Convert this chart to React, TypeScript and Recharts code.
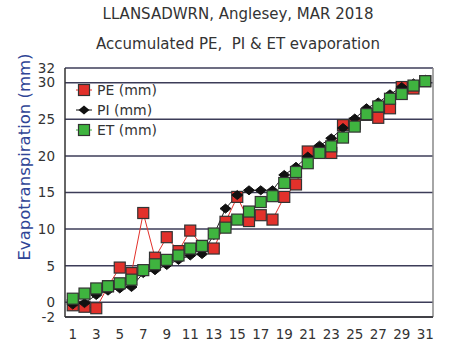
import { LineChart, Line, XAxis, YAxis, CartesianGrid, ReferenceLine } from 'recharts'

const days = Array.from({ length: 31 }, (_, i) => i + 1)
const pe = [-0.4, -0.6, -0.8, 2.2, 4.75, 4.0, 12.2, 6.1, 8.9, 7.0, 9.8, 7.7, 7.35, 11.0, 14.4, 11.1, 11.9, 11.3, 14.4, 16.1, 20.6, 20.6, 20.4, 24.2, 24.4, 25.6, 25.2, 26.5, 29.4, 29.2, 30.2]
const pi = [-0.3, -0.1, 1.0, 1.6, 1.9, 2.1, 4.0, 4.4, 5.1, 5.8, 6.4, 6.6, 9.2, 12.8, 14.65, 15.3, 15.3, 15.3, 17.4, 18.5, 19.9, 21.4, 22.4, 23.8, 25.1, 26.5, 27.3, 28.4, 29.4, 29.9, 30.4]
const et = [0.5, 1.2, 1.9, 2.2, 2.6, 3.1, 4.4, 5.2, 5.8, 6.4, 7.35, 7.7, 9.4, 10.2, 11.3, 12.4, 13.7, 14.5, 16.3, 17.8, 19.0, 20.4, 21.3, 22.5, 24.0, 25.7, 26.75, 27.8, 28.45, 29.6, 30.2]
const xTicks = [1, 3, 5, 7, 9, 11, 13, 15, 17, 19, 21, 23, 25, 27, 29, 31]
const yTicks = [-2, 0, 5, 10, 15, 20, 25, 30, 32]

const data = days.map((d, i) => ({ day: d, pe: pe[i], pi: pi[i], et: et[i] }))

const RED = '#e2312b'
const GREEN = '#3fb43f'
const FONT = '"DejaVu Sans", Verdana, sans-serif'

function Square({ cx, cy, fill }: any) {
  if (cx == null || cy == null) return null
  return <rect x={cx - 5.5} y={cy - 5.5} width={11} height={11} fill={fill} stroke="#333" strokeWidth={1.2} />
}

function Diamond({ cx, cy }: any) {
  if (cx == null || cy == null) return null
  return <path d={`M${cx - 5.5},${cy} L${cx},${cy - 4.5} L${cx + 5.5},${cy} L${cx},${cy + 4.5} Z`} fill="#111" stroke="#111" />
}

const legendItems = [
  { name: 'PE (mm)', color: RED, kind: 'sq' },
  { name: 'PI (mm)', color: '#111', kind: 'dia' },
  { name: 'ET (mm)', color: GREEN, kind: 'sq' },
]

function LegendBox() {
  return (
    <div style={{ position: 'absolute', left: 75, top: 80, fontSize: 14, color: '#333' }}>
      {legendItems.map(it => (
        <div key={it.name} style={{ display: 'flex', alignItems: 'center', height: 20 }}>
          <svg width={18} height={14} style={{ marginRight: 4 }}>
            <line x1={1} y1={7} x2={17} y2={7} stroke={it.color} strokeWidth={1} />
            {it.kind === 'sq'
              ? <rect x={3.5} y={1.5} width={11} height={11} fill={it.color} stroke="#333" strokeWidth={1.2} />
              : <path d="M3.5,7 L9,2.5 L14.5,7 L9,11.5 Z" fill="#111" />}
          </svg>
          <span>{it.name}</span>
        </div>
      ))}
    </div>
  )
}

export default function App() {
  return (
    <div style={{ position: 'absolute', left: 0, top: 0, width: 476, height: 354, background: '#fff', fontFamily: FONT }}>
      <div style={{ position: 'absolute', top: 5, width: 476, textAlign: 'center', fontSize: 15, color: '#333' }}>
        LLANSADWRN, Anglesey, MAR 2018
      </div>
      <div style={{ position: 'absolute', top: 35, width: 476, textAlign: 'center', fontSize: 15, color: '#333' }}>
        Accumulated PE,&nbsp; PI &amp; ET evaporation
      </div>
      <div style={{ position: 'absolute', left: 24, top: 157, width: 0, height: 0 }}>
        <div style={{
          position: 'absolute', transform: 'translate(-50%, -50%) rotate(-90deg)', whiteSpace: 'nowrap',
          fontSize: 16.5, color: '#2f4596',
        }}>
          Evapotranspiration (mm)
        </div>
      </div>
      <div style={{ position: 'absolute', left: 0, top: 0 }}>
        <LineChart width={476} height={354} data={data} margin={{ top: 68, right: 43, bottom: 7, left: 0 }}>
          <CartesianGrid vertical={false} stroke="#3c3c58" strokeWidth={1.5} />
          <XAxis
            dataKey="day" type="number" domain={[0.34, 31.66]} ticks={xTicks} interval={0} height={30}
            allowDataOverflow tickLine={false} axisLine={{ stroke: '#333', strokeWidth: 1.5 }}
            tick={{ fill: '#333', fontSize: 13.5, fontFamily: FONT }} tickMargin={6}
          />
          <YAxis
            type="number" domain={[-2, 32]} ticks={yTicks} interval={0} allowDataOverflow width={65}
            tickLine={false} axisLine={{ stroke: '#333', strokeWidth: 1.5 }}
            tick={{ fill: '#333', fontSize: 13.5, fontFamily: FONT }} tickMargin={4}
          />
          <ReferenceLine x={31.66} stroke="#888" strokeWidth={1.5} />
          <Line dataKey="pe" stroke={RED} strokeWidth={1} dot={<Square fill={RED} />} isAnimationActive={false} />
          <Line dataKey="pi" stroke="#222" strokeWidth={1} dot={<Diamond />} isAnimationActive={false} />
          <Line dataKey="et" stroke="#7cd07c" strokeWidth={1} dot={<Square fill={GREEN} />} isAnimationActive={false} />
        </LineChart>
      </div>
      <LegendBox />
    </div>
  )
}
